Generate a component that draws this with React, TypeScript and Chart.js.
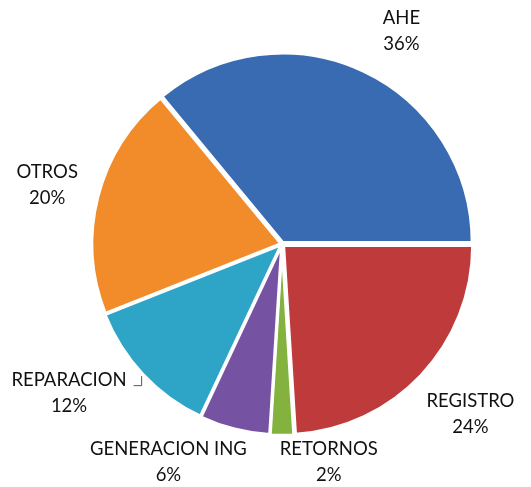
import React, { useEffect, useRef } from "react";
import { Chart, registerables } from "chart.js";

Chart.register(...registerables);

const CATEGORIES = ["AHE", "REGISTRO", "RETORNOS", "GENERACION ING", "REPARACION", "OTROS"];
const VALUES = [36, 24, 2, 6, 12, 20];
const COLORS = ["#386bb2", "#bf3a3a", "#84b23e", "#7552a2", "#2ea5c6", "#f28c2b"];

// label placement relative to each slice (degrees shift, px beyond outer radius)
const LABEL_ANGLE_SHIFT = [4.1, -1.1, -12.1, 13.1, 8.2, -0.4];
const LABEL_GAP = [55, 65, 34, 57, 71, 53];
const SLICE_OFFSET = [7, 9, 5, 5, 5, 4];

function shade(hex: string, f: number) {
  const n = parseInt(hex.slice(1), 16);
  let r = (n >> 16) & 255, g = (n >> 8) & 255, b = n & 255;
  const adj = (v: number) => Math.max(0, Math.min(255, Math.round(f >= 0 ? v + (255 - v) * f : v * (1 + f))));
  r = adj(r); g = adj(g); b = adj(b);
  return `rgb(${r},${g},${b})`;
}

const FONT = "18.5px Lato, 'Liberation Sans', sans-serif";

const labelPlugin = {
  id: "outLabels",
  afterDatasetsDraw(chart: any) {
    const meta = chart.getDatasetMeta(0);
    const ctx = chart.ctx;
    const total = VALUES.reduce((a, b) => a + b, 0);
    ctx.save();
    ctx.font = FONT;
    ctx.fillStyle = "#111";
    ctx.textAlign = "center";
    ctx.textBaseline = "middle";
    meta.data.forEach((arc: any, i: number) => {
      const { x, y, startAngle, endAngle, outerRadius } = arc.getProps(
        ["x", "y", "startAngle", "endAngle", "outerRadius"], true);
      const mid = (startAngle + endAngle) / 2 + (LABEL_ANGLE_SHIFT[i] * Math.PI) / 180;
      const d = outerRadius + LABEL_GAP[i];
      const lx = x + d * Math.cos(mid);
      const ly = y + d * Math.sin(mid);
      const pct = Math.round((VALUES[i] / total) * 100) + "%";
      ctx.fillText(CATEGORIES[i], lx, ly - 13);
      ctx.fillText(pct, lx, ly + 13);
      if (i === 4) {
        const w = ctx.measureText(CATEGORIES[i]).width;
        ctx.strokeStyle = "#555";
        ctx.lineWidth = 1;
        ctx.beginPath();
        ctx.moveTo(lx + w / 2 + 7, ly - 7.5);
        ctx.lineTo(lx + w / 2 + 15, ly - 7.5);
        ctx.lineTo(lx + w / 2 + 15, ly - 17);
        ctx.stroke();
      }
    });
    ctx.restore();
  },
};

export default function App() {
  const ref = useRef<HTMLCanvasElement>(null);
  useEffect(() => {
    if (!ref.current) return;
    const chart = new Chart(ref.current, {
      type: "pie",
      data: {
        labels: CATEGORIES,
        datasets: [
          {
            data: VALUES,
            backgroundColor: (c: any) => {
              const i = c.dataIndex;
              const base = COLORS[i];
              const chartObj = c.chart;
              const arc = chartObj.getDatasetMeta(0).data[i] as any;
              if (!chartObj.chartArea || !arc || !arc.outerRadius) return base;
              const g = chartObj.ctx.createRadialGradient(arc.x, arc.y, 0, arc.x, arc.y, arc.outerRadius + SLICE_OFFSET[i]);
              g.addColorStop(0, shade(base, 0.05));
              g.addColorStop(0.88, base);
              g.addColorStop(0.96, shade(base, -0.06));
              g.addColorStop(1, shade(base, -0.22));
              return g;
            },
            borderColor: "#ffffff",
            borderWidth: 3,
            offset: SLICE_OFFSET,
          },
        ],
      },
      options: {
        responsive: false,
        animation: false,
        rotation: -39.6,
        radius: 189,
        layout: { padding: { left: 33, right: 0, top: 1, bottom: 0 } },
        plugins: {
          legend: { display: false },
          tooltip: { enabled: false },
          title: { display: false },
        },
      } as any,
      plugins: [labelPlugin],
    });
    return () => chart.destroy();
  }, []);
  return (
    <div style={{ position: "absolute", left: 0, top: 0, width: 531, height: 487, background: "#fff" }}>
      <canvas ref={ref} width={531} height={487} />
    </div>
  );
}
